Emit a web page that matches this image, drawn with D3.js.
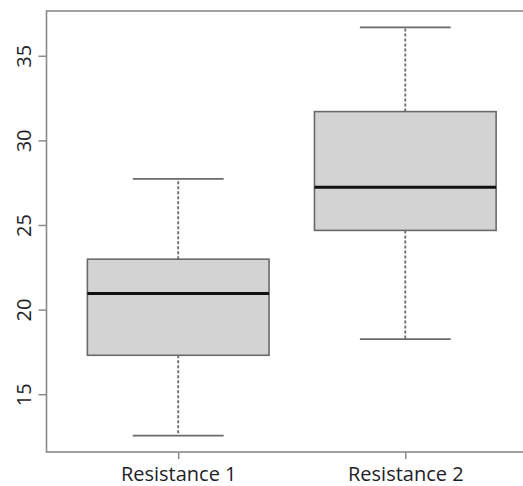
<!DOCTYPE html>
<html><head><meta charset="utf-8">
<script src="https://cdn.jsdelivr.net/npm/d3@7"></script>
<style>body{margin:0;background:#fff;overflow:hidden}svg{display:block}</style>
</head><body>
<script>
const categories = ["Resistance 1", "Resistance 2"];
const whiskerLow = [12.55, 18.25];
const q1 = [17.3, 24.68];
const median = [20.95, 27.23];
const q3 = [22.98, 31.7];
const whiskerHigh = [27.72, 36.68];
const yTicks = [15, 20, 25, 30, 35];

(function () {
const W = 523, H = 486;
const svg = d3.select("body").append("svg").attr("width", W).attr("height", H);

const mLeft = 46.5, mTop = 11, mBottom = 452, mRight = 537;
const x = d3.scaleLinear().domain([0.42, 2.58]).range([mLeft, mRight]);
const lo = d3.min(whiskerLow), hi = d3.max(whiskerHigh), pad = (hi - lo) * 0.04;
const y = d3.scaleLinear().domain([lo - pad, hi + pad]).range([mBottom, mTop]);

const axisCol = "#8a8a8a", boxCol = "#6a6a6a", textCol = "#1e1e28";
const font = "'Open Sans', sans-serif";

svg.append("rect").attr("x", mLeft).attr("y", mTop).attr("width", mRight - mLeft).attr("height", mBottom - mTop)
  .attr("fill", "none").attr("stroke", axisCol).attr("stroke-width", 1.6);

const ya = svg.append("g").attr("transform", `translate(${mLeft},0)`)
  .call(d3.axisLeft(y).tickValues(yTicks).tickSize(8).tickPadding(4).tickFormat(d3.format("d")));
ya.select(".domain").remove();
ya.selectAll(".tick line").attr("stroke", axisCol).attr("stroke-width", 1.5);
ya.selectAll(".tick text").attr("transform", "rotate(-90)").attr("x", 0).attr("y", -23)
  .attr("dy", "0.35em").attr("text-anchor", "middle")
  .attr("font-family", font).attr("font-size", 20).attr("fill", textCol);

const xa = svg.append("g").attr("transform", `translate(0,${mBottom})`)
  .call(d3.axisBottom(x).tickValues([1, 2]).tickSize(7).tickPadding(8).tickFormat((d) => categories[d - 1]));
xa.select(".domain").remove();
xa.selectAll(".tick line").attr("stroke", axisCol).attr("stroke-width", 1.5);
xa.selectAll(".tick text").attr("font-family", font).attr("font-size", 20).attr("fill", textCol);

const bw = 0.8, cw = 0.4;
const g = svg.append("g");
categories.forEach((c, i) => {
  const cx = x(i + 1);
  const bl = x(i + 1 - bw / 2), br = x(i + 1 + bw / 2);
  const cl = x(i + 1 - cw / 2), cr = x(i + 1 + cw / 2);
  g.append("line").attr("x1", cx).attr("x2", cx).attr("y1", y(q3[i])).attr("y2", y(whiskerHigh[i]))
    .attr("stroke", boxCol).attr("stroke-width", 1.8).attr("stroke-dasharray", "3,2");
  g.append("line").attr("x1", cx).attr("x2", cx).attr("y1", y(q1[i])).attr("y2", y(whiskerLow[i]))
    .attr("stroke", boxCol).attr("stroke-width", 1.8).attr("stroke-dasharray", "3,2");
  [whiskerHigh[i], whiskerLow[i]].forEach(v => {
    g.append("line").attr("x1", cl).attr("x2", cr).attr("y1", y(v)).attr("y2", y(v))
      .attr("stroke", boxCol).attr("stroke-width", 1.8);
  });
  g.append("rect").attr("x", bl).attr("y", y(q3[i])).attr("width", br - bl).attr("height", y(q1[i]) - y(q3[i]))
    .attr("fill", "#d3d3d3").attr("stroke", boxCol).attr("stroke-width", 1.6);
  g.append("line").attr("x1", bl).attr("x2", br).attr("y1", y(median[i])).attr("y2", y(median[i]))
    .attr("stroke", "#111").attr("stroke-width", 3);
});
})();
</script>
</body></html>
